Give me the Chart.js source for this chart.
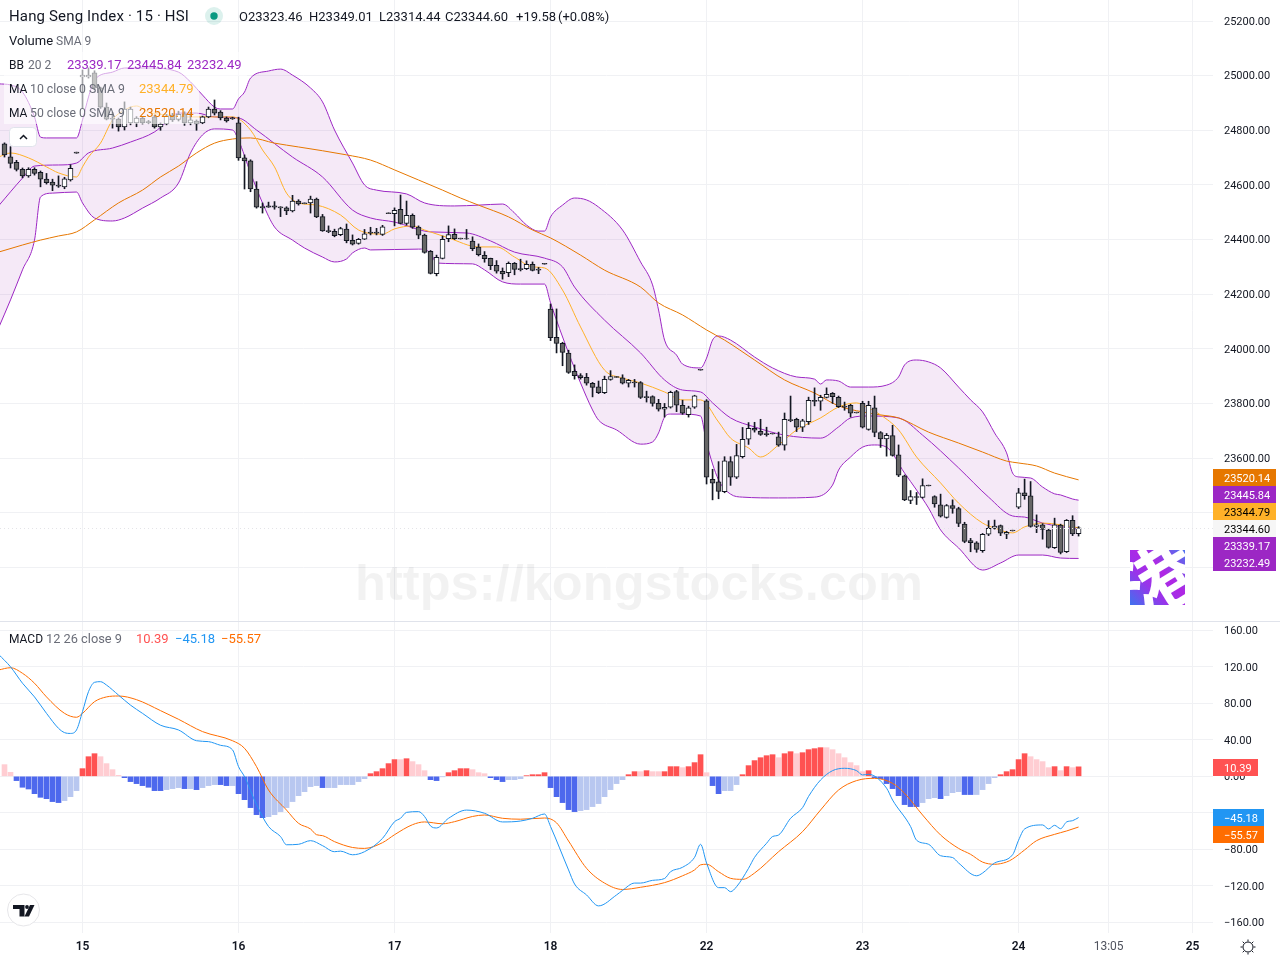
<!DOCTYPE html>
<html>
<head>
<meta charset="utf-8">
<title>Hang Seng Index 15</title>
<script src="https://cdn.jsdelivr.net/npm/chart.js@4/dist/chart.umd.js"></script>
<style>
  html, body { margin: 0; padding: 0; background: #fff; }
  #wrap { position: relative; width: 1280px; height: 960px; overflow: hidden; background: #fff; }
  canvas { position: absolute; left: 0; display: block; }
  #pricePane { top: 0; }
  #macdPane { top: 622px; }
  #divider { position: absolute; left: 0; top: 621px; width: 1280px; height: 1px; background: #e0e3eb; }
</style>
</head>
<body>
<div id="wrap">
  <canvas id="pricePane" width="1280" height="621"></canvas>
  <div id="divider"></div>
  <canvas id="macdPane" width="1280" height="338"></canvas>
</div>
<script>
// 15-minute candles, one entry per bar
const opens = [
  24750,24703,24683,24657,24633,24657,24646,24621,24610,24599,
  24593,24618,24720,24995,24995,25010,24955,24885,24845,24841,
  24812,24827,24827,24845,24832,24849,24812,24823,24856,24840,
  24860,24827,24834,24827,24849,24878,24867,24845,24846,24827,
  24699,24688,24585,24521,24523,24523,24520,24516,24505,24541,
  24534,24534,24548,24484,24433,24430,24418,24438,24397,24386,
  24401,24427,24427,24419,24498,24495,24511,24459,24489,24446,
  24416,24357,24275,24331,24403,24419,24405,24404,24394,24372,
  24342,24331,24306,24284,24279,24313,24294,24293,24309,24292,
  24313,24145,24042,24020,23984,23918,23902,23896,23874,23861,
  23839,23888,23898,23894,23874,23878,23876,23825,23825,23800,
  23779,23786,23843,23793,23759,23786,23925,23810,23522,23513,
  23477,23587,23530,23605,23669,23709,23698,23690,23691,23678,
  23647,23741,23742,23713,23733,23811,23808,23822,23837,23822,
  23790,23793,23768,23800,23705,23784,23693,23670,23682,23612,
  23535,23445,23459,23456,23501,23459,23429,23383,23426,23415,
  23358,23298,23290,23261,23321,23342,23353,23321,23336,23420,
  23473,23462,23350,23356,23336,23272,23355,23257,23372,23323.46
];
const highs = [
  24754,24740,24690,24662,24663,24663,24651,24642,24621,24633,
  24628,24674,24720,25021,25028,25018,24958,24900,24866,24845,
  24904,24885,24850,24850,24836,24855,24827,24858,24862,24870,
  24868,24866,24838,24852,24885,24911,24872,24849,24848,24848,
  24710,24692,24612,24534,24537,24539,24520,24520,24562,24546,
  24534,24559,24552,24492,24450,24438,24445,24457,24417,24404,
  24437,24445,24441,24452,24498,24516,24563,24541,24494,24450,
  24420,24360,24343,24413,24450,24439,24405,24437,24410,24384,
  24356,24332,24323,24296,24318,24316,24328,24322,24318,24298,
  24313,24164,24146,24024,23995,23941,23909,23910,23877,23882,
  23900,23920,23898,23905,23888,23888,23880,23845,23828,23815,
  23800,23845,23848,23812,23790,23830,23925,23814,23559,23587,
  23605,23605,23650,23712,23730,23731,23742,23713,23691,23695,
  23765,23827,23746,23742,23823,23857,23830,23857,23840,23827,
  23805,23797,23768,23808,23808,23827,23697,23690,23720,23648,
  23538,23481,23474,23524,23501,23462,23468,23430,23447,23420,
  23365,23306,23294,23324,23371,23373,23355,23332,23336,23489,
  23523,23514,23392,23360,23340,23380,23358,23375,23389,23349.01
];
const lows = [
  24702,24662,24651,24626,24628,24636,24593,24603,24579,24591,
  24586,24614,24716,24882,24991,24950,24880,24838,24808,24797,
  24801,24820,24813,24823,24824,24808,24800,24820,24832,24834,
  24818,24820,24800,24824,24846,24856,24838,24830,24840,24690,
  24585,24575,24515,24497,24518,24511,24484,24491,24501,24526,
  24531,24497,24480,24430,24425,24410,24414,24388,24380,24383,
  24400,24417,24417,24415,24495,24450,24457,24453,24441,24403,
  24350,24274,24267,24329,24392,24400,24402,24401,24359,24340,
  24317,24290,24277,24255,24264,24271,24285,24290,24285,24275,
  24310,24030,23985,23938,23910,23889,23889,23867,23824,23836,
  23836,23885,23895,23871,23860,23860,23818,23805,23790,23772,
  23750,23783,23770,23760,23750,23782,23922,23505,23447,23451,
  23473,23500,23525,23600,23650,23695,23683,23680,23688,23643,
  23629,23733,23697,23697,23723,23791,23775,23820,23800,23785,
  23775,23750,23765,23710,23702,23678,23639,23607,23607,23532,
  23444,23433,23430,23453,23498,23420,23384,23380,23398,23349,
  23290,23257,23255,23255,23316,23340,23316,23305,23333,23415,
  23449,23347,23327,23303,23270,23269,23249,23254,23316,23314.44
];
const closes = [
  24710,24679,24657,24633,24657,24642,24621,24608,24599,24595,
  24622,24661,24716,25002,25002,24955,24885,24841,24841,24812,
  24878,24878,24845,24827,24828,24812,24823,24852,24838,24858,
  24827,24838,24823,24849,24878,24863,24845,24834,24842,24699,
  24688,24585,24519,24516,24519,24519,24516,24505,24541,24530,
  24531,24548,24483,24432,24429,24414,24440,24396,24383,24401,
  24421,24423,24423,24447,24495,24507,24459,24489,24445,24416,
  24353,24276,24335,24401,24418,24403,24402,24402,24367,24345,
  24330,24304,24284,24274,24313,24291,24290,24309,24287,24288,
  24310,24041,24020,23987,23914,23902,23894,23874,23859,23839,
  23888,23898,23895,23874,23885,23875,23822,23821,23800,23779,
  23786,23841,23794,23764,23784,23828,23922,23530,23508,23478,
  23590,23530,23609,23669,23709,23702,23687,23686,23688,23647,
  23742,23737,23713,23736,23811,23807,23822,23833,23825,23788,
  23786,23764,23765,23713,23793,23694,23670,23683,23610,23537,
  23447,23459,23456,23499,23498,23432,23387,23426,23416,23361,
  23295,23290,23266,23321,23343,23351,23325,23328,23333,23473,
  23462,23350,23356,23339,23273,23356,23255,23372,23322,23344.60
];

// Bollinger bands and moving averages, as bar number and price pairs
const bbUpperBars = [-1,1,3,5,6,7,12,13,14,15,18,20,24,29,31,33,35,36,38,39,40,41,44,46,48,51,53,55,58,60,62,67,70,75,79,83,85,87,89,90,91,93,95,97,99,103,106,108,109,110,112,113,116,117,118,119,121,125,128,132,135,136,137,139,141,144,147,149,150,152,154,156,159,161,163,165,167,168,169,171,173,175,176,178,179];
const bbUpperValues = [24970,24966,24940,24849,24775,24772,24772,24838,24922,24984,25013,25028,25028,25013,24977,24929,24885,24878,24878,24915,24940,24991,25017,25024,25002,24955,24904,24801,24680,24600,24581,24567,24534,24523,24526,24530,24497,24453,24431,24431,24483,24526,24552,24545,24519,24435,24318,24234,24142,24032,23977,23944,23930,23966,24032,24047,24032,23970,23930,23897,23889,23871,23886,23882,23860,23860,23867,23897,23941,23959,23952,23930,23860,23813,23769,23692,23619,23545,23531,23527,23494,23469,23465,23450,23445.84];
const bbLowerBars = [-1,1,3,5,6,8,12,13,15,18,20,23,26,29,31,33,35,38,39,41,43,45,48,50,53,55,57,58,60,61,69,71,72,78,80,83,86,90,91,94,96,98,99,102,106,108,109,110,111,113,116,117,119,121,123,129,135,138,139,141,143,145,147,150,152,154,156,159,163,166,169,173,176,179];
const bbLowerValues = [24076,24179,24289,24398,24556,24570,24574,24534,24479,24468,24479,24515,24552,24607,24717,24783,24805,24801,24764,24644,24534,24446,24398,24369,24336,24318,24329,24351,24369,24362,24365,24351,24314,24311,24289,24245,24237,24237,24168,23985,23875,23776,23739,23703,23651,23659,23692,23750,23761,23761,23754,23655,23520,23468,23457,23454,23457,23501,23556,23604,23640,23648,23640,23545,23483,23417,23337,23271,23190,23216,23245,23245,23234,23232.49];
const bbBasisBars = [-1,3,5,9,12,14,18,21,25,27,29,32,35,39,42,48,53,58,61,65,71,77,81,85,90,93,95,100,106,110,113,116,118,121,125,130,136,139,141,144,149,153,159,164,168,170,173,179];
const bbBasisValues = [24523,24625,24669,24673,24680,24717,24735,24757,24794,24830,24863,24863,24849,24845,24801,24702,24629,24508,24479,24464,24428,24424,24395,24354,24332,24300,24226,24105,23985,23886,23849,23842,23802,23747,23714,23684,23673,23714,23747,23754,23747,23684,23564,23457,23388,23384,23362,23339.17];
const ma10Bars = [-1,1,4,7,9,12,13,14,16,18,20,22,24,27,30,34,38,41,43,45,47,49,52,56,59,63,65,68,70,74,79,82,85,88,90,93,96,100,103,106,110,113,116,119,121,124,126,129,132,136,139,142,144,146,149,152,156,159,163,165,168,170,173,179];
const ma10Values = [24702,24717,24699,24666,24644,24629,24666,24702,24753,24838,24874,24889,24867,24856,24849,24849,24849,24801,24728,24666,24570,24534,24526,24490,24435,24420,24439,24450,24435,24406,24373,24373,24336,24300,24296,24215,24080,23922,23893,23875,23842,23813,23813,23732,23673,23637,23604,23648,23703,23747,23787,23802,23783,23758,23703,23604,23509,23435,23362,23344,23326,23348,23362,23344.79];
const ma50Bars = [-1,3,6,9,12,15,19,23,26,29,32,35,38,41,45,49,57,61,65,69,73,76,79,84,88,91,96,100,106,109,113,117,120,125,130,135,139,143,146,149,154,159,163,167,169,172,175,179];
const ma50Values = [24354,24380,24398,24413,24428,24472,24534,24581,24629,24669,24717,24753,24768,24772,24753,24739,24710,24691,24655,24618,24581,24552,24526,24483,24435,24406,24343,24288,24226,24168,24124,24069,24032,23959,23886,23838,23791,23769,23758,23747,23695,23655,23622,23589,23582,23571,23545,23520.14];

// MACD lines, as bar number and value pairs
const macdBars = [-1,1,3,5,7,9,10,11,12,13,14,15,16,17,19,21,23,26,29,32,34,36,38,39,40,42,44,46,47,49,51,53,55,56,58,60,63,65,66,67,69,70,71,72,74,77,80,83,86,88,90,91,94,95,97,99,102,103,105,106,108,110,111,113,115,116,117,119,120,121,122,124,125,127,128,129,131,133,134,136,138,140,142,143,144,147,148,151,152,154,156,158,159,162,163,165,168,169,170,173,174,175,176,177,178,179];
const macdValues = [133.7,120,102,87,69,52.6,47.9,47,50.8,70.9,92.8,103,103.7,100,89,78,69,56,50.8,39,38,34,29,10.6,-0.4,-31,-55,-66,-75,-74.5,-70.5,-76,-82.6,-82,-86,-82.6,-68,-49.7,-46,-39.5,-38.7,-44,-54.4,-56.6,-46,-37,-40.5,-50,-49,-46,-41.3,-55,-102.6,-118,-130,-142,-130,-125,-117,-117,-114,-112,-104.5,-99.7,-88.8,-74.5,-95,-122,-122,-126.4,-121,-100.8,-88.8,-73.4,-66,-64.3,-46,-34.3,-22,-4,6.2,8.8,6.2,1.5,2.2,-13,-26,-55,-70,-74.5,-87,-89,-95,-109,-106,-95,-86,-70,-57.7,-53.3,-57.7,-53.7,-57.4,-50,-48.6,-45.18];
const signalBars = [-1,1,3,5,7,10,12,13,15,17,19,22,26,29,33,38,40,42,44,47,49,51,52,53,55,58,60,63,65,68,70,73,75,78,80,83,86,90,92,94,97,100,103,106,110,113,115,116,117,119,121,123,125,129,133,136,139,142,145,148,150,153,156,159,161,163,165,167,168,170,172,175,177,179];
const signalValues = [116.5,119,112.9,102,87,69,64.7,69,81.8,87,88,84,72,62.5,49,39,30.7,10.6,-15,-37,-51.5,-57.7,-64,-65,-71.6,-78,-79,-72.7,-64,-53,-50,-52,-49.7,-44,-42.4,-46,-47,-45.7,-51,-70.9,-100.8,-117,-124,-121.6,-116.5,-109,-102.6,-97,-96.4,-104.5,-111.8,-112.9,-106,-82.6,-60.6,-36.9,-15,-4.7,-2.2,-7.7,-18.6,-42.4,-64.3,-79,-85.5,-94,-96.4,-93.9,-90.6,-80.7,-70.5,-63.6,-59.9,-55.57];

// MACD histogram, one value per bar
const histogram = [
  12.8,4.4,-4.7,-12,-13.9,-19,-23,-24.5,-27.7,-28.8,
  -26.6,-22.3,-15.7,8.4,21.5,24.8,21.5,13.9,7.3,1.1,
  -1.5,-5.8,-8,-10.2,-12,-15.7,-15.7,-14.6,-13.5,-12.4,
  -13.5,-13.5,-14.6,-12.4,-10.2,-9.1,-9.1,-10.2,-10.2,-19,
  -25.6,-34.3,-42,-45.3,-44.2,-42,-38.7,-34.3,-27.7,-21.2,
  -16.8,-11.3,-10.2,-12.4,-12.4,-12.4,-9.1,-9.1,-9.1,-5.8,
  -2.6,2.9,5.1,8.4,13.9,18.3,18.3,19.3,16.1,12.8,
  6.2,-3.7,-4.7,-0.4,4,6.2,8.4,8.4,7.3,4,
  2.9,-1.5,-3.7,-5.8,-3.7,-3.7,-2.6,0.7,1.8,1.8,
  4,-12.4,-22.3,-28.8,-36.5,-38.7,-37.6,-36.5,-33.2,-29.9,
  -22.3,-14.6,-8,-3.7,1.8,5.1,5.1,6.2,5.1,5.1,
  5.1,10.6,10.6,9.5,10.6,15,23.7,4,-10.2,-19,
  -15.7,-15.7,-9.1,1.8,11.7,17.2,20.4,22.6,23.7,20.4,
  24.8,27,24.8,25.9,29.2,30.3,31.4,31.4,29.2,24.8,
  20.4,15,11.7,5.1,6.2,-1.5,-2.6,-8,-13.5,-21.2,
  -31,-33.2,-33.2,-28.8,-24.5,-23.4,-24.5,-21.2,-17.9,-16.8,
  -20,-20,-20,-14.6,-8,-1.5,1.8,5.1,7.3,18.3,
  24.8,21.5,18.3,16.1,9.5,10.6,6.2,10.6,9.5,10.39
];
// Strong (S) or pale (P) shade of each histogram column
const histogramTone = [
  'PP','SSSSSSSS','PPP','SSS','PPPP','SSSSSSS','PPP','S','P','S','PPP','SS','P','SSSSS',
  'PPPPPPPPP','S','PPPPPPP','SSSSS','P','S','PPP','SS','P','SSSS','PPP','SSS','PPP',
  'SSSSSSSSS','PPPPPPPP','SS','P','S','PP','SSS','P','SSS','P','SS','PPP','SSSSSS','P',
  'SS','P','SSSS','PPPPPPP','SSSSSSSSS','PPP','S','PPP','SS','PPPP','SSSSS','PPPP','S','P','S','P','S'
].join('');

// Axis labels
const priceTicks = [25200,25000,24800,24600,24400,24200,24000,23800,23600,23400,23200];
const macdTicks = [160,120,80,40,0,-40,-80,-120,-160];
const timeTickBars = [13,39,65,91,117,143,169,184,198];
const timeTickLabels = ['15','16','17','18','22','23','24','13:05','25'];

// Pane scale extents
const barMin = -0.75, barMax = 201.4;
const priceMin = 23003.5, priceMax = 25277;
const macdMin = -171.7, macdMax = 169.1;

const FONT = 'Roboto, "Noto Sans", sans-serif';
const INK = '#131722', MUTED = '#6a6d78', GRID = '#f0f1f4';
const PURPLE = '#9c27c4', MA_FAST = '#ffb128', MA_SLOW = '#e67700';
const BLUE = '#2196f3', ORANGE = '#ff6d00', RED = '#ff5252';

const pairs = (bars, values) => bars.map((b, k) => ({ x: b, y: values[k] }));
const fmt = v => v.toFixed(2).replace('-', '\u2212');

function text(ctx, str, x, y, color, font) {
  ctx.font = font;
  ctx.fillStyle = color;
  ctx.textBaseline = 'middle';
  ctx.textAlign = 'left';
  ctx.fillText(str, x, y + 1.5);
}

function priceTag(ctx, str, x0, x1, y0, y1, bg, fg, font) {
  ctx.fillStyle = bg;
  ctx.fillRect(x0, y0, x1 - x0, y1 - y0);
  text(ctx, str, 1224, (y0 + y1) / 2, fg, font);
}

function lineSet(label, data, color, extra) {
  return Object.assign({
    type: 'line', label, data, borderColor: color, borderWidth: 1, pointRadius: 0,
    cubicInterpolationMode: 'monotone', fill: false, order: 5
  }, extra || {});
}

function xAxis(showLabels) {
  return {
    type: 'linear', min: barMin, max: barMax, offset: false,
    afterBuildTicks: s => { s.ticks = timeTickBars.map(v => ({ value: v })); },
    afterFit: s => { s.height = showLabels ? 27 : 0; s.paddingLeft = 0; s.paddingRight = 0; },
    grid: { color: GRID, drawTicks: false, offset: false, lineWidth: 1 },
    border: { display: false },
    ticks: {
      display: showLabels, autoSkip: false, maxRotation: 0, padding: 7,
      callback: v => timeTickLabels[timeTickBars.indexOf(v)],
      color: c => (timeTickLabels[c.index] === '13:05' ? '#50535e' : INK),
      font: c => ({ family: FONT, size: 12, weight: timeTickLabels[c.index] === '13:05' ? '400' : '600' })
    }
  };
}

function yAxis(min, max, values) {
  return {
    type: 'linear', position: 'right', min, max,
    afterBuildTicks: s => { s.ticks = values.map(v => ({ value: v })); },
    afterFit: s => { s.width = 67; s.paddingTop = 0; s.paddingBottom = 0; },
    grid: { color: GRID, drawTicks: false, lineWidth: 1 },
    border: { display: false },
    ticks: { color: INK, padding: 11, labelOffset: 1, font: { family: FONT, size: 11 }, callback: fmt }
  };
}

const baseOptions = {
  responsive: false, animation: false, devicePixelRatio: 1, maintainAspectRatio: false,
  layout: { autoPadding: false, padding: 0 },
  plugins: { legend: { display: false }, tooltip: { enabled: false } },
  events: []
};

// Translucent watermark behind the marks
const watermark = {
  id: 'watermark',
  beforeDatasetsDraw(chart) {
    const ctx = chart.ctx;
    ctx.save();
    ctx.font = 'bold 50.6px "Liberation Sans", Arial, sans-serif';
    ctx.fillStyle = 'rgba(0,0,0,0.05)';
    ctx.textBaseline = 'middle';
    ctx.textAlign = 'center';
    ctx.fillText('https://kongstocks.com', 639, 586);
    ctx.restore();
  }
};

const priceOverlay = {
  id: 'priceOverlay',
  afterDatasetsDraw(chart) {
    const ctx = chart.ctx;
    const y = chart.scales.y;
    ctx.save();
    // last-price dotted line
    ctx.strokeStyle = '#e4e4e8';
    ctx.setLineDash([1, 3]);
    ctx.beginPath();
    const py = Math.round(y.getPixelForValue(closes[closes.length - 1])) + 0.5;
    ctx.moveTo(0, py); ctx.lineTo(1213, py);
    ctx.stroke();
    ctx.setLineDash([]);

    // legend rows sit on a translucent plate
    ctx.fillStyle = 'rgba(255,255,255,0.6)';
    ctx.fillRect(4, 52, 243, 24);
    ctx.fillRect(4, 76, 195, 48);

    const f12 = '12px ' + FONT, f13 = '13px ' + FONT;
    ctx.letterSpacing = '0.15px';
    text(ctx, 'Hang Seng Index \u00b7 15 \u00b7 HSI', 9, 16, INK, '15px ' + FONT);
    ctx.letterSpacing = '0px';
    ctx.fillStyle = 'rgba(8,153,129,0.14)';
    ctx.beginPath(); ctx.arc(214, 16, 9, 0, Math.PI * 2); ctx.fill();
    ctx.fillStyle = '#089981';
    ctx.beginPath(); ctx.arc(214, 16, 3.7, 0, Math.PI * 2); ctx.fill();
    text(ctx, 'O23323.46', 239, 16, INK, f13);
    text(ctx, 'H23349.01', 309, 16, INK, f13);
    text(ctx, 'L23314.44', 379, 16, INK, f13);
    text(ctx, 'C23344.60', 445, 16, INK, f13);
    text(ctx, '+19.58', 516, 16, INK, f13);
    text(ctx, '(+0.08%)', 558, 16, INK, f13);

    text(ctx, 'Volume', 9, 40, INK, f13);
    text(ctx, 'SMA 9', 56, 40, MUTED, f12);
    text(ctx, 'BB', 9, 64, INK, f12);
    text(ctx, '20 2', 28, 64, MUTED, f12);
    text(ctx, '23339.17', 67, 64, PURPLE, f13);
    text(ctx, '23445.84', 127, 64, PURPLE, f13);
    text(ctx, '23232.49', 187, 64, PURPLE, f13);
    text(ctx, 'MA', 9, 88, INK, f12);
    text(ctx, '10 close 0 SMA 9', 30, 88, MUTED, '12.25px ' + FONT);
    text(ctx, '23344.79', 139, 88, MA_FAST, f13);
    text(ctx, 'MA', 9, 112, INK, f12);
    text(ctx, '50 close 0 SMA 9', 30, 112, MUTED, '12.25px ' + FONT);
    text(ctx, '23520.14', 139, 112, MA_SLOW, f13);

    // collapse button
    ctx.fillStyle = '#fff';
    ctx.strokeStyle = '#e0e3eb';
    ctx.beginPath(); ctx.roundRect(9.5, 127.5, 27, 19, 4); ctx.fill(); ctx.stroke();
    ctx.strokeStyle = INK; ctx.lineWidth = 1.5;
    ctx.beginPath(); ctx.moveTo(20, 139); ctx.lineTo(23.5, 135.5); ctx.lineTo(27, 139); ctx.stroke();
    ctx.lineWidth = 1;

    // price tags on the right axis
    const tf = '11px ' + FONT;
    priceTag(ctx, '23520.14', 1213, 1276, 469, 486, MA_SLOW, '#fff', tf);
    priceTag(ctx, '23445.84', 1213, 1276, 486, 503, PURPLE, '#fff', tf);
    priceTag(ctx, '23344.79', 1213, 1276, 503, 520, MA_FAST, '#000', tf);
    priceTag(ctx, '23344.60', 1213, 1276, 520, 537, '#f6f6f6', '#000', tf);
    priceTag(ctx, '23339.17', 1213, 1276, 537, 554, PURPLE, '#fff', tf);
    priceTag(ctx, '23232.49', 1213, 1276, 554, 571, PURPLE, '#fff', tf);

    // badge with a rotated character on a gradient square
    ctx.save();
    ctx.beginPath(); ctx.rect(1130, 550, 55, 55); ctx.clip();
    const g = ctx.createLinearGradient(1130, 605, 1185, 550);
    g.addColorStop(0, '#3f72ee');
    g.addColorStop(0.35, '#9a33ea');
    g.addColorStop(0.6, '#b027e4');
    g.addColorStop(1, '#4f74ee');
    ctx.fillStyle = g;
    ctx.fillRect(1130, 550, 55, 55);
    ctx.translate(1158, 577);
    ctx.rotate(-0.55);
    ctx.fillStyle = '#fff';
    ctx.font = 'bold 74px "Noto Sans CJK SC"';
    ctx.textAlign = 'center';
    ctx.textBaseline = 'middle';
    ctx.fillText('\u6e2f', 0, 2);
    ctx.restore();
    ctx.restore();
  }
};

const macdOverlay = {
  id: 'macdOverlay',
  afterDatasetsDraw(chart) {
    const ctx = chart.ctx;
    ctx.save();
    const f12 = '12px ' + FONT, f13 = '13px ' + FONT;
    // y positions here are relative to the lower pane's own canvas
    text(ctx, 'MACD', 9, 16.5, INK, f12);
    text(ctx, '12 26 close 9', 46, 16.5, MUTED, '12.8px ' + FONT);
    text(ctx, '10.39', 136, 16.5, RED, f13);
    text(ctx, '\u221245.18', 175, 16.5, BLUE, f13);
    text(ctx, '\u221255.57', 221, 16.5, ORANGE, f13);

    const tf = '11px ' + FONT;
    priceTag(ctx, '10.39', 1213, 1258, 137, 154, RED, '#fff', tf);
    priceTag(ctx, '\u221245.18', 1213, 1264, 187, 204, BLUE, '#fff', tf);
    priceTag(ctx, '\u221255.57', 1213, 1264, 204, 221, ORANGE, '#fff', tf);

    // round brand badge
    ctx.fillStyle = '#fff';
    ctx.strokeStyle = '#e6e6e9';
    ctx.beginPath(); ctx.arc(23.5, 288, 16, 0, Math.PI * 2); ctx.fill(); ctx.stroke();
    ctx.fillStyle = INK;
    ctx.beginPath();
    ctx.moveTo(13, 283); ctx.lineTo(24.5, 283); ctx.lineTo(24.5, 294.5); ctx.lineTo(19.5, 294.5);
    ctx.lineTo(19.5, 287); ctx.lineTo(13, 287); ctx.closePath(); ctx.fill();
    ctx.beginPath(); ctx.arc(27, 285, 1.9, 0, Math.PI * 2); ctx.fill();
    ctx.beginPath();
    ctx.moveTo(30, 283); ctx.lineTo(34.5, 283); ctx.lineTo(29, 294.5); ctx.lineTo(24.5, 294.5);
    ctx.closePath(); ctx.fill();

    // settings icon in the axis corner
    ctx.strokeStyle = INK;
    ctx.lineWidth = 1;
    ctx.beginPath(); ctx.arc(1248, 325, 5, 0, Math.PI * 2); ctx.stroke();
    for (let k = 0; k < 8; k++) {
      const a = k * Math.PI / 4;
      ctx.beginPath();
      ctx.moveTo(1248 + Math.cos(a) * 5.5, 325 + Math.sin(a) * 5.5);
      ctx.lineTo(1248 + Math.cos(a) * 7.5, 325 + Math.sin(a) * 7.5);
      ctx.stroke();
    }
    ctx.restore();
  }
};

const barIndex = closes.map((_, i) => i);

new Chart(document.getElementById('pricePane'), {
  type: 'bar',
  data: {
    datasets: [
      { label: 'Body', data: barIndex.map(i => ({ x: i, y: [opens[i], closes[i]] })),
        barThickness: 5, grouped: false, borderWidth: 1, borderSkipped: false, borderColor: '#131722',
        backgroundColor: barIndex.map(i => (closes[i] >= opens[i] ? '#ffffff' : '#666666')), order: 0 },
      { label: 'Wick', data: barIndex.map(i => ({ x: i, y: [lows[i], highs[i]] })),
        barThickness: 1, grouped: false, backgroundColor: '#131722', borderWidth: 0, order: 1 },
      lineSet('MA 10', pairs(ma10Bars, ma10Values), MA_FAST, { order: 3 }),
      lineSet('MA 50', pairs(ma50Bars, ma50Values), MA_SLOW, { order: 4 }),
      lineSet('BB Basis', pairs(bbBasisBars, bbBasisValues), PURPLE, { order: 5 }),
      lineSet('BB Upper', pairs(bbUpperBars, bbUpperValues), PURPLE,
        { order: 6, fill: { target: '+1' }, backgroundColor: 'rgba(156,39,176,0.1)' }),
      lineSet('BB Lower', pairs(bbLowerBars, bbLowerValues), PURPLE, { order: 7 })
    ]
  },
  options: Object.assign({}, baseOptions, {
    scales: { x: xAxis(false), y: yAxis(priceMin, priceMax, priceTicks) }
  }),
  plugins: [watermark, priceOverlay]
});

const histColor = barIndex.map(i => {
  const strong = histogramTone[i] === 'S';
  if (histogram[i] >= 0) return strong ? '#ff5252' : '#ffcdd2';
  return strong ? '#4d68ed' : '#b8c7f0';
});

new Chart(document.getElementById('macdPane'), {
  type: 'bar',
  data: {
    datasets: [
      lineSet('MACD', pairs(macdBars, macdValues), BLUE, { order: 0 }),
      lineSet('Signal', pairs(signalBars, signalValues), ORANGE, { order: 1 }),
      { label: 'Histogram', data: barIndex.map(i => ({ x: i, y: histogram[i] })),
        barThickness: 5, grouped: false, borderWidth: 0, backgroundColor: histColor, order: 2 }
    ]
  },
  options: Object.assign({}, baseOptions, {
    scales: { x: xAxis(true), y: yAxis(macdMin, macdMax, macdTicks) }
  }),
  plugins: [macdOverlay]
});
</script>
</body>
</html>
